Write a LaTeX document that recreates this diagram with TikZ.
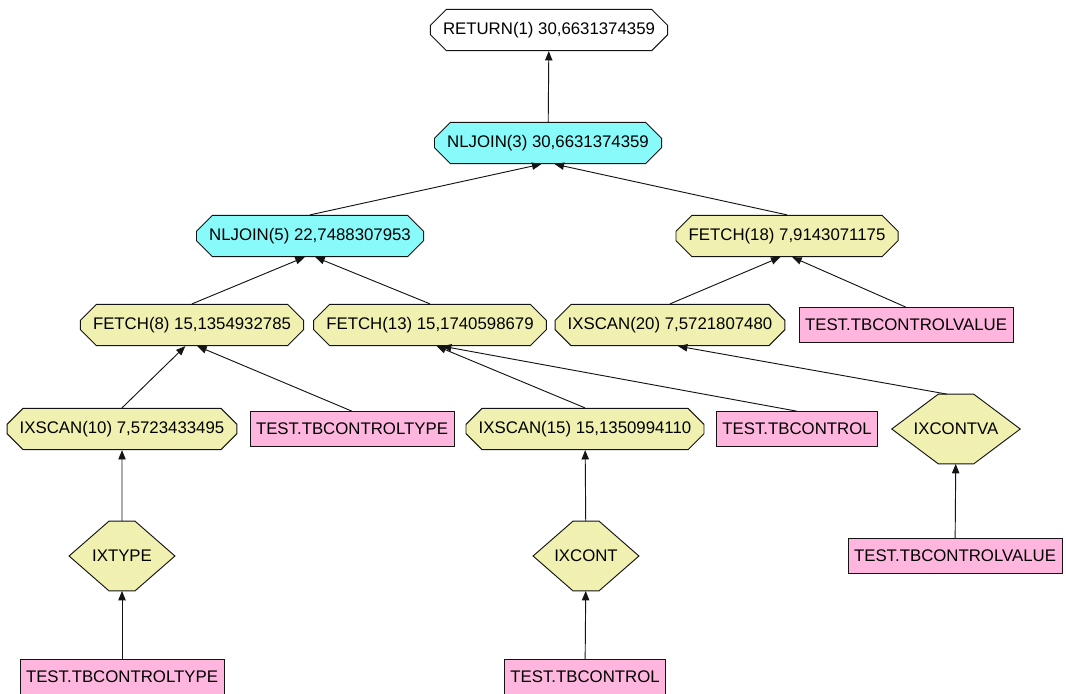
\documentclass[tikz,border=0pt]{standalone}
\usepackage{fontspec}
\setmainfont{Liberation Sans}
\usetikzlibrary{shapes.misc}
\usetikzlibrary{arrows.meta}
\usetikzlibrary{backgrounds}
\usetikzlibrary{positioning}

\definecolor{opyellow}{RGB}{240,240,176}
\definecolor{opcyan}{RGB}{136,250,250}
\definecolor{tabpink}{RGB}{255,182,222}
\definecolor{edgegray}{RGB}{20,20,20}

% hexagon drawn behind an index node: #1 node name, #2 pointer length
\newcommand{\hexframe}[2]{%
  \begin{scope}[on background layer]
    \draw[fill=opyellow, draw=edgegray, line width=0.7pt]
      (#1.west) -- ([xshift=#2]#1.north west) -- ([xshift=-#2]#1.north east)
      -- (#1.east) -- ([xshift=-#2]#1.south east) -- ([xshift=#2]#1.south west) -- cycle;
  \end{scope}}

\begin{document}
\begin{tikzpicture}[x=0.75pt, y=-0.75pt,
    every node/.style={font=\fontsize{12.6}{14}\selectfont},
    op/.style={draw=edgegray, line width=0.7pt, chamfered rectangle, chamfered rectangle xsep=6.5pt, chamfered rectangle ysep=5.5pt, minimum height=31pt, inner xsep=3pt, fill=opyellow},
    tab/.style={draw=edgegray, line width=0.7pt, rectangle, minimum height=26pt, inner xsep=4.5pt, fill=tabpink},
    idx/.style={rectangle, minimum height=52pt, inner sep=0pt},
    flow/.style={-{Triangle[length=7pt,width=5.5pt]}, line width=0.7pt, edgegray}]

    \useasboundingbox (0,0) rectangle (1066,693);

    \node(R1)[op, fill=white] at (549,30) {RETURN(1) 30,6631374359};
    \node(NL3)[op, fill=opcyan] at (548,143) {NLJOIN(3) 30,6631374359};
    \node(NL5)[op, fill=opcyan] at (310,236) {NLJOIN(5) 22,7488307953};
    \node(F18)[op] at (787,236) {FETCH(18) 7,9143071175};

    \node(F8)[op] at (192,325) {FETCH(8) 15,1354932785};
    \node(F13)[op] at (430,325) {FETCH(13) 15,1740598679};
    \node(IX20)[op] at (670,325) {IXSCAN(20) 7,5721807480};
    \node(TCV)[tab] at (906,325) {TEST.TBCONTROLVALUE};

    \node(IX10)[op] at (122,429) {IXSCAN(10) 7,5723433495};
    \node(TCT)[tab] at (352,429) {TEST.TBCONTROLTYPE};
    \node(IX15)[op] at (585,429) {IXSCAN(15) 15,1350994110};
    \node(TC)[tab] at (797,429) {TEST.TBCONTROL};
    \node(HCVA)[idx, minimum width=96pt] at (956,429) {IXCONTVA};

    \node(HTYPE)[idx, minimum width=79pt] at (122,556) {IXTYPE};
    \node(HCONT)[idx, minimum width=79pt] at (586,556) {IXCONT};
    \node(TCV2)[tab] at (955,556) {TEST.TBCONTROLVALUE};

    \node(TCT2)[tab] at (122,677) {TEST.TBCONTROLTYPE};
    \node(TC2)[tab] at (585,677) {TEST.TBCONTROL};

    \hexframe{HCVA}{35pt}
    \hexframe{HTYPE}{30pt}
    \hexframe{HCONT}{30pt}

    \draw[flow] (NL3) -- (R1);
    \draw[flow] (NL5.north) -- ([xshift=-5pt]NL3.south);
    \draw[flow] (F18.north) -- ([xshift=5pt]NL3.south);
    \draw[flow] (F8.north) -- ([xshift=-4pt]NL5.south);
    \draw[flow] (F13.north) -- ([xshift=4pt]NL5.south);
    \draw[flow] (IX20.north) -- ([xshift=-5pt]F18.south);
    \draw[flow] (TCV.north) -- ([xshift=4pt]F18.south);
    \draw[flow] (IX10.north) -- ([xshift=-5pt]F8.south);
    \draw[flow] (TCT.north) -- ([xshift=4pt]F8.south);
    \draw[flow] (IX15.north) -- ([xshift=5pt]F13.south);
    \draw[flow] (TC.north) -- ([xshift=9pt]F13.south);
    \draw[flow] ([xshift=-7pt]HCVA.north) -- ([xshift=6pt]IX20.south);
    \draw[flow] (HTYPE) -- (IX10);
    \draw[flow] (TCT2) -- (HTYPE);
    \draw[flow] (HCONT) -- (IX15);
    \draw[flow] (TC2) -- (HCONT);
    \draw[flow] (TCV2) -- (HCVA);

\end{tikzpicture}
\end{document}
